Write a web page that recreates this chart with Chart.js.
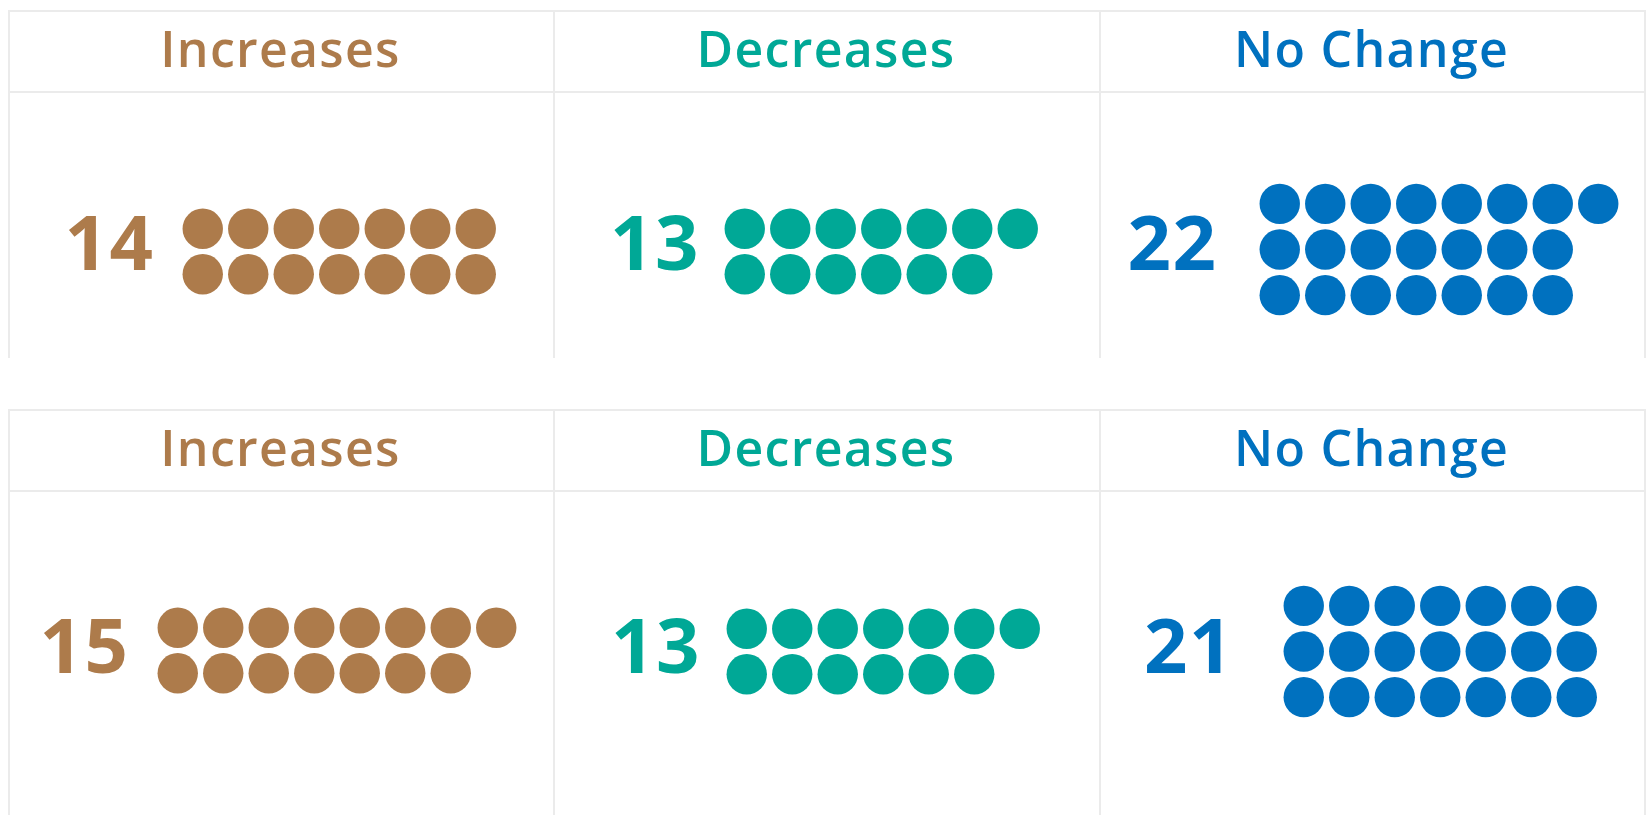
<!DOCTYPE html>
<html>
<head>
<meta charset="utf-8">
<script src="https://cdn.jsdelivr.net/npm/chart.js@4.4.1/dist/chart.umd.min.js"></script>
<style>
  html, body { margin: 0; padding: 0; background: #fff; }
  body { width: 1647px; height: 815px; position: relative; overflow: hidden; font-family: "Open Sans", sans-serif; }
  .ln { position: absolute; background: #ebebeb; }
  .head { position: absolute; text-align: center; font-weight: 600; font-size: 50px; letter-spacing: 1.3px; white-space: nowrap; }
  .num { position: absolute; width: 160px; text-align: center; font-weight: 700; font-size: 76px; line-height: 76px; letter-spacing: 1.5px; }
  canvas { position: absolute; }
</style>
</head>
<body>
<script>
// ─── data ────────────────────────────────────────────────────────────────────
const categories  = ['Increases', 'Decreases', 'No Change'];
const topCounts   = [14, 13, 22];
const botCounts   = [15, 13, 21];
// dots per row, as laid out in the picture
const topRows     = [[7, 7], [7, 6], [8, 7, 7]];
const botRows     = [[8, 7], [7, 6], [7, 7, 7]];
const colors      = ['#ad7b4b', '#00a896', '#0071bf'];

// ─── layout ──────────────────────────────────────────────────────────────────
const STEP = 45.5;
const COLS_X = [8, 553, 1099, 1644];
const panels = [
  { top: 10,  head: 91,  bottom: 358, counts: topCounts, rows: topRows,
    numX: [109.5, 655, 1172.5], numY: 243.5,
    dot0: [[202.5, 229], [744.6, 229], [1280, 204]] },
  { top: 409, head: 490, bottom: 815, counts: botCounts, rows: botRows,
    numX: [84.5, 656, 1189], numY: 646,
    dot0: [[178, 628], [747, 629], [1304, 605.5]] },
];

function line(x, y, w, h) {
  const d = document.createElement('div');
  d.className = 'ln';
  Object.assign(d.style, { left: x + 'px', top: y + 'px', width: w + 'px', height: h + 'px' });
  document.body.appendChild(d);
}

function dotChart(rows, color, cx, cy) {
  const pts = [];
  rows.forEach((n, r) => { for (let c = 0; c < n; c++) pts.push({ x: c, y: r }); });
  const cv = document.createElement('canvas');
  cv.width = 8 * STEP;
  cv.height = Math.round(rows.length * STEP);
  cv.style.left = (cx - STEP / 2) + 'px';
  cv.style.top = (cy - STEP / 2) + 'px';
  document.body.appendChild(cv);
  new Chart(cv, {
    type: 'scatter',
    data: { datasets: [{ data: pts, backgroundColor: color, pointBorderWidth: 0, pointRadius: 20.2, pointHoverRadius: 20.2, clip: false }] },
    options: {
      responsive: false, animation: false, events: [],
      layout: { padding: 0, autoPadding: false },
      plugins: { legend: { display: false }, tooltip: { enabled: false } },
      scales: {
        x: { type: 'linear', min: -0.5, max: 7.5, display: false },
        y: { type: 'linear', min: -0.5, max: rows.length - 0.5, reverse: true, display: false },
      },
    },
  });
}

panels.forEach(p => {
  // table lines
  line(COLS_X[0], p.top, COLS_X[3] - COLS_X[0] + 2, 2);
  line(COLS_X[0], p.head, COLS_X[3] - COLS_X[0] + 2, 2);
  COLS_X.forEach(x => line(x, p.top, 2, p.bottom - p.top));

  categories.forEach((cat, i) => {
    const h = document.createElement('div');
    h.className = 'head';
    h.textContent = cat;
    Object.assign(h.style, {
      left: COLS_X[i] + 'px', width: (COLS_X[i + 1] - COLS_X[i]) + 'px',
      top: (p.top - 2) + 'px', height: (p.head - p.top) + 'px', lineHeight: (p.head - p.top) + 'px',
      color: colors[i],
    });
    document.body.appendChild(h);

    const n = document.createElement('div');
    n.className = 'num';
    n.textContent = p.counts[i];
    Object.assign(n.style, { left: (p.numX[i] - 80) + 'px', top: (p.numY - 40.3) + 'px', color: colors[i] });
    document.body.appendChild(n);

    dotChart(p.rows[i], colors[i], p.dot0[i][0], p.dot0[i][1]);
  });
});
</script>
</body>
</html>
